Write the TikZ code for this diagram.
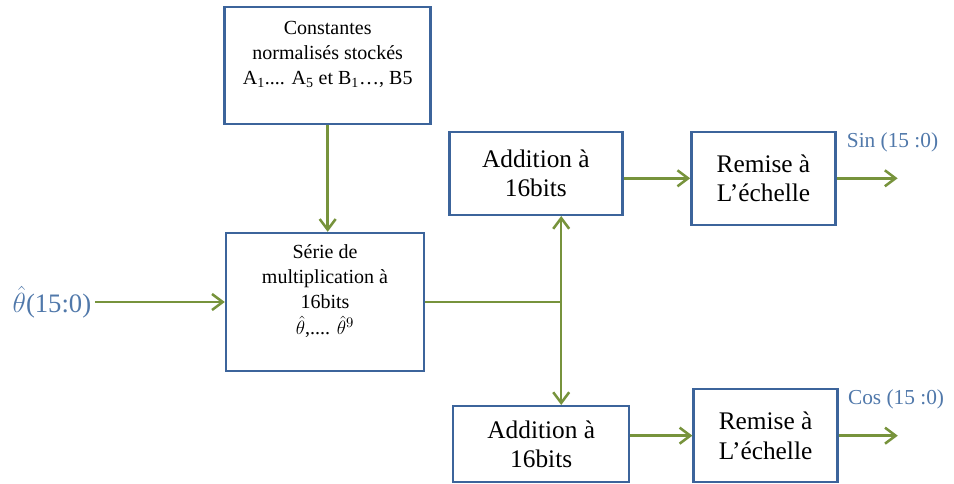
\documentclass[tikz,border=0pt]{standalone}
\usepackage{fontspec}
\setmainfont{Liberation Serif}
\usepackage{xcolor}
\usepackage{tikz}
\usetikzlibrary{positioning, arrows.meta}
\definecolor{boxBlue}{RGB}{60,100,155}
\definecolor{wireGreen}{RGB}{119,147,60}
\definecolor{sigBlue}{RGB}{80,120,170}
\tikzset{
    block/.style={
        draw=boxBlue,
        line width=1.8pt,
        fill=white,
        align=center,
        inner sep=2pt
    },
    smallblock/.style={
        block,
        font=\fontsize{15}{19}\selectfont
    },
    bigblock/.style={
        block,
        font=\fontsize{19}{22}\selectfont
    },
    wire/.style={
        wireGreen,
        line width=1.9pt
    },
    ptr/.style={
        wire,
        -{Straight Barb[length=8pt,width=12pt]}
    },
    sigLabel/.style={
        sigBlue,
        inner sep=0pt,
        font=\fontsize{16}{19}\selectfont
    }
}

\begin{document}
\begin{tikzpicture}[x=0.75pt, y=-0.75pt]
    \useasboundingbox (0,0) rectangle (954,483);

    % multiplication et constantes
    \node[smallblock, minimum width=148.5pt, minimum height=103.5pt] (ser) at (325,302)
        {Série de\\ multiplication à\\ 16bits\\ $\hat{\theta}$,.... $\hat{\theta}^9$\\ ~};
    \node[smallblock, minimum width=154.5pt, minimum height=87.75pt, above=80pt of ser, xshift=2pt] (cst)
        {Constantes\\ normalisés stockés\\ A\textsubscript{1}.... A\textsubscript{5} et B\textsubscript{1}…, B5\\ ~};
    \node[sigLabel, font=\fontsize{20}{24}\selectfont, inner xsep=3pt, left=97pt of ser] (thetaIn)
        {$\hat{\theta}$(15:0)};
    \coordinate[right=102pt of ser] (jn);

    % branche sinus
    \node[bigblock, minimum width=129.75pt, minimum height=62.25pt, above=64.5pt of jn, xshift=-19pt] (addA)
        {Addition à\\ 16bits};
    \node[bigblock, minimum width=108pt, minimum height=69.75pt, right=50pt of addA, yshift=-3.75pt] (remA)
        {Remise à\\ L’échelle};
    \coordinate[right=45.75pt of remA] (sinOut);
    \node[sigLabel, above right=19.5pt and 7.5pt of remA.east] (sinLbl) {Sin (15 :0)};

    % branche cosinus
    \node[bigblock, minimum width=132pt, minimum height=57pt, below=77.25pt of jn, xshift=-15pt] (addB)
        {Addition à\\ 16bits};
    \node[bigblock, minimum width=108pt, minimum height=69.75pt, right=46.5pt of addB, yshift=6.4pt] (remB)
        {Remise à\\ L’échelle};
    \coordinate[right=44.25pt of remB] (cosOut);
    \node[sigLabel, above right=19.5pt and 6.75pt of remB.east] (cosLbl) {Cos (15 :0)};

    % connexions
    \draw[ptr] (thetaIn.east) -- (ser.west);
    \draw[ptr] (cst.south) -- (cst.south |- ser.north);
    \draw[wire] (ser.east) -- (jn);
    \draw[ptr] (jn) -- (jn |- addA.south);
    \draw[ptr] (jn) -- (jn |- addB.north);
    \draw[ptr] (addA.east |- remA.west) -- (remA.west);
    \draw[ptr] (remA.east) -- (sinOut);
    \draw[ptr] (addB.east |- remB.west) -- (remB.west);
    \draw[ptr] (remB.east) -- (cosOut);
\end{tikzpicture}
\end{document}
